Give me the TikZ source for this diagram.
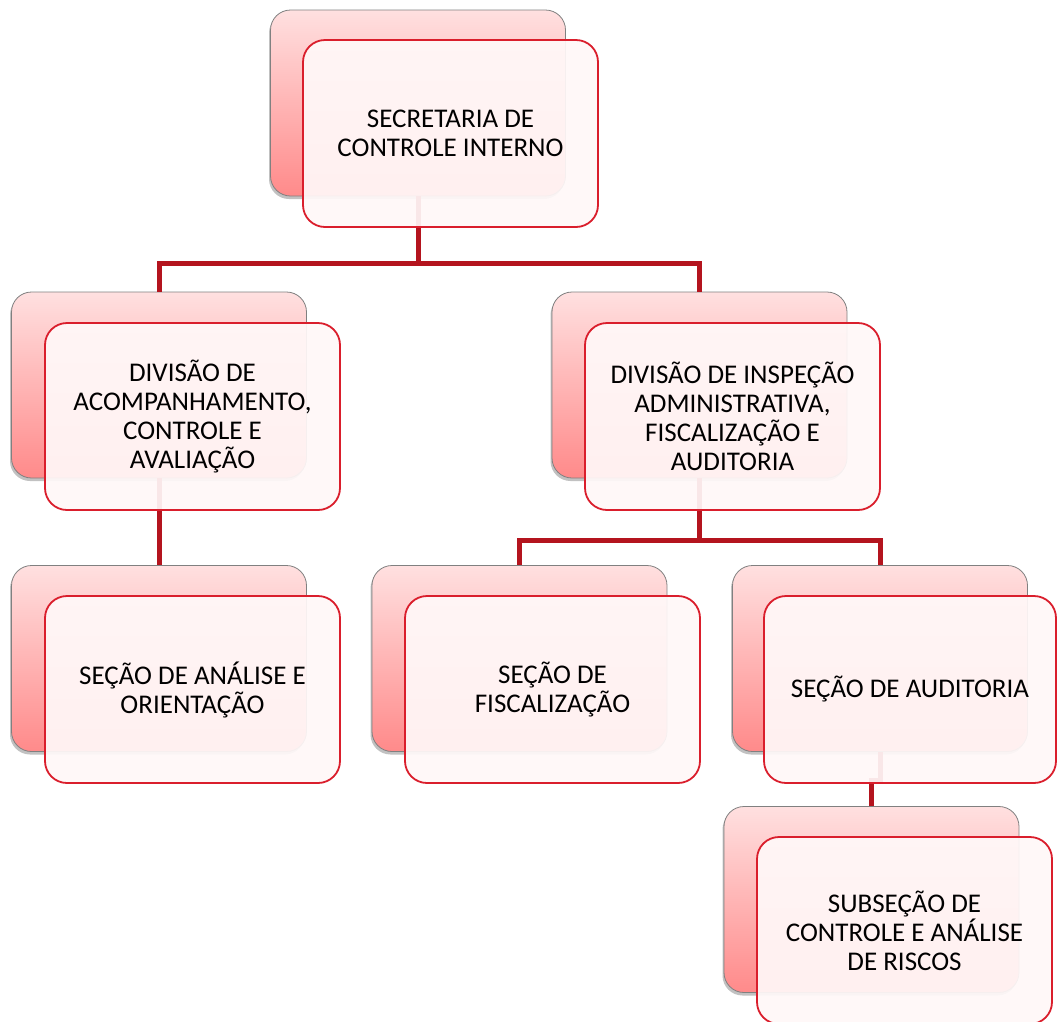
\documentclass[tikz,border=0pt]{standalone}
\usepackage{fontspec}
\setmainfont{Carlito}
\usetikzlibrary{shadows}
\definecolor{backtop}{RGB}{255,224,224}
\definecolor{backbot}{RGB}{255,138,138}
\definecolor{frontfill}{RGB}{255,248,248}
\definecolor{frontline}{RGB}{218,30,44}
\definecolor{connred}{RGB}{180,20,30}
\tikzset{
  backbox/.style={rectangle, rounded corners=20pt, draw=black!50, line width=0.8pt,
    top color=backtop, bottom color=backbot, minimum width=295pt, minimum height=186pt,
    drop shadow={shadow xshift=-1.5pt, shadow yshift=-3pt, opacity=0.35, fill=black!70}},
  frontbox/.style={rectangle, rounded corners=22pt, draw=frontline, line width=1.8pt,
    fill=frontfill, fill opacity=0.93, text opacity=1, minimum width=295pt, minimum height=187pt,
    align=center, font=\fontsize{27}{29}\selectfont, inner sep=0pt},
  conn/.style={draw=connred, line width=5pt}
}
\begin{document}
\begin{tikzpicture}[x=1pt,y=-1pt]
\useasboundingbox (0,0) rectangle (1058,1021);
% back boxes
\node[backbox] (b1) at (418,103) {};
\node[backbox] (b2) at (159,385) {};
\node[backbox] (b3) at (699.5,385) {};
\node[backbox] (b4) at (159,658.5) {};
\node[backbox] (b5) at (519.5,658.5) {};
\node[backbox] (b6) at (880,658.5) {};
\node[backbox] (b7) at (871.5,899.5) {};
% connectors
\coordinate (j1) at (418,263);
\coordinate (j2) at (699.5,540);
\coordinate (j3) at (880,780);
\draw[conn] (b1.south) -- (j1) -| (b2.north);
\draw[conn] (j1) -| (b3.north);
\draw[conn] (b2.south) -- (b4.north);
\draw[conn] (b3.south) -- (j2) -| (b5.north);
\draw[conn] (j2) -| (b6.north);
\draw[conn] (b6.south) -- (j3) -| (b7.north);
% front boxes
\node[frontbox] (f1) at (450.5,133.5) {SECRETARIA DE\\CONTROLE INTERNO};
\node[frontbox] (f2) at (192.5,416.5) {DIVISÃO DE\\ACOMPANHAMENTO,\\CONTROLE E\\AVALIAÇÃO};
\node[frontbox] (f3) at (732.5,416.5) {DIVISÃO DE INSPEÇÃO\\ADMINISTRATIVA,\\FISCALIZAÇÃO E\\AUDITORIA};
\node[frontbox] (f4) at (192.5,689.5) {SEÇÃO DE ANÁLISE E\\ORIENTAÇÃO};
\node[frontbox] (f5) at (552.5,689.5) {SEÇÃO DE\\FISCALIZAÇÃO};
\node[frontbox, minimum width=292pt] (f6) at (910,689.5) {SEÇÃO DE AUDITORIA};
\node[frontbox] (f7) at (904.5,930.5) {SUBSEÇÃO DE\\CONTROLE E ANÁLISE\\DE RISCOS};
\end{tikzpicture}
\end{document}
